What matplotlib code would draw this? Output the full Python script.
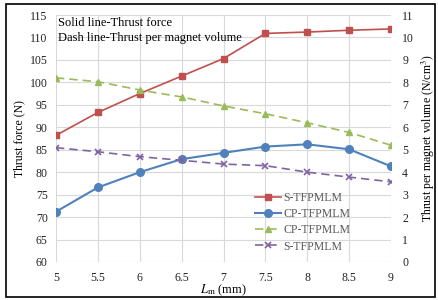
import matplotlib
matplotlib.use("Agg")
import matplotlib.pyplot as plt
from matplotlib.patches import Rectangle

plt.rcParams['font.family'] = ['Liberation Serif', 'DejaVu Serif']
plt.rcParams['mathtext.fontset'] = 'stix'

lm = [5, 5.5, 6, 6.5, 7, 7.5, 8, 8.5, 9]
force_s = [88.2, 93.3, 97.5, 101.4, 105.3, 110.9, 111.2, 111.6, 111.9]
force_cp = [71.2, 76.6, 80.0, 82.9, 84.3, 85.7, 86.2, 85.1, 81.3]
vol_cp = [8.2, 8.03, 7.66, 7.35, 6.95, 6.6, 6.2, 5.77, 5.2]
vol_s = [5.09, 4.91, 4.69, 4.53, 4.36, 4.29, 4.0, 3.78, 3.57]

red = '#C0504D'
blue = '#4F81BD'
green = '#9BBB59'
purple = '#8064A2'
grey_txt = '#595959'

fig = plt.figure(figsize=(4.39, 3.0), dpi=100)
ax = fig.add_axes([0.1276, 0.1267, 0.7631, 0.8233])
ax2 = ax.twinx()

l1, = ax.plot(lm, force_s, '-s', color=red, lw=1.2, ms=4.5, label='S-TFPMLM')
l2, = ax.plot(lm, force_cp, '-o', color=blue, lw=1.5, ms=5.5, label='CP-TFPMLM')
l3, = ax2.plot(lm, vol_cp, '--^', color=green, lw=1.2, ms=5, dashes=(5, 3), label='CP-TFPMLM')
l4, = ax2.plot(lm, vol_s, '--x', color=purple, lw=1.2, ms=5, mew=1.2, dashes=(5, 3), label='S-TFPMLM')

ax.set_xlim(5, 9)
ax.set_ylim(60, 115)
ax.set_yticks(range(60, 116, 5))
ax.set_xticks(lm)
ax.set_xticklabels(['5', '5.5', '6', '6.5', '7', '7.5', '8', '8.5', '9'])
ax2.set_ylim(0, 11)
ax2.set_yticks(range(0, 12))

ax.grid(True, color='#d9d9d9', lw=0.8)
ax.set_axisbelow(True)
for a in (ax, ax2):
    for s in a.spines.values():
        s.set_visible(False)
    a.tick_params(length=0, labelsize=8.5, colors='#222222')
ax.tick_params(axis='x', pad=7)
ax.tick_params(axis='y', pad=6)
ax2.tick_params(axis='y', pad=8)

ax.set_xlabel('$L_\\mathrm{m}$ (mm)', fontsize=9, labelpad=-1)
ax.set_ylabel('Thrust force (N)', fontsize=8.5, labelpad=3)
ax2.set_ylabel('Thrust per magnet volume (N/cm$^3$)', fontsize=8.5, labelpad=4)

ax.text(5.02, 113.2, 'Solid line-Thrust force', fontsize=9, va='center')
ax.text(5.02, 109.8, 'Dash line-Thrust per magnet volume', fontsize=9, va='center')

leg = ax.legend(handles=[l1, l2, l3, l4], loc='lower right',
                bbox_to_anchor=(0.91, -0.005), frameon=False, fontsize=8.5,
                handlelength=2.2, labelspacing=0.35, handletextpad=0.2)
for t in leg.get_texts():
    t.set_color(grey_txt)

fig.patches.append(Rectangle((0.014, 0.01), 0.977, 0.977, transform=fig.transFigure,
                             fill=False, edgecolor='black', lw=1.2))

fig.savefig('out.png', dpi=100)
